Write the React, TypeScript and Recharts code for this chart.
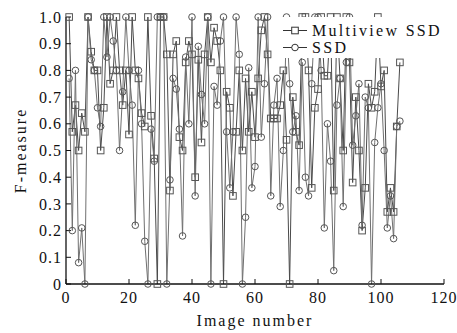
import React from 'react';
import { LineChart, Line, XAxis, YAxis, Legend } from 'recharts';

const multiviewSSD = [
  1.0, 0.57, 0.67, 0.5, 0.64, 0.57, 1.0, 0.87, 0.8, 0.8,
  0.5, 0.66, 1.0, 0.75, 0.8, 1.0, 0.8, 0.67, 0.8, 0.56,
  1.0, 0.8, 0.77, 0.64, 0.59, 1.0, 0.63, 0.47, 0.0, 1.0,
  1.0, 0.86, 0.35, 0.86, 0.91, 0.55, 0.5, 0.83, 0.91, 0.86,
  0.4, 0.84, 0.53, 0.86, 1.0, 0.83, 0.96, 0.91, 0.8, 0.0,
  0.72, 0.66, 0.33, 0.57, 0.8, 0.5, 0.77, 0.57, 0.72, 0.55,
  0.77, 0.95, 1.0, 0.86, 0.62, 0.62, 0.62, 0.67, 0.8, 0.54,
  0.0, 0.7, 0.57, 0.52, 1.0, 1.0, 0.8, 0.36, 0.66, 0.73,
  1.0, 0.78, 0.78, 1.0, 0.35, 1.0, 0.77, 0.5, 1.0, 0.83,
  0.38, 0.7, 0.5, 0.2, 0.36, 0.75, 0.66, 0.72, 1.0, 0.74,
  0.8, 0.27, 0.36, 0.27, 0.59, 0.83,
];

const plainSSD = [
  0.77, 0.2, 0.8, 0.08, 0.21, 0.0, 1.0, 0.84, 0.8, 0.66,
  0.59, 1.0, 0.85, 1.0, 0.91, 0.8, 0.5, 0.72, 1.0, 0.8,
  0.67, 0.22, 0.8, 0.6, 0.16, 0.0, 0.58, 0.46, 1.0, 1.0,
  1.0, 0.0, 0.39, 0.77, 0.73, 0.58, 0.18, 0.85, 0.6, 1.0,
  0.33, 0.89, 0.71, 0.6, 1.0, 0.0, 0.74, 0.67, 0.91, 1.0,
  0.57, 0.36, 0.57, 1.0, 0.86, 0.0, 0.25, 0.81, 0.36, 0.44,
  1.0, 0.55, 0.75, 1.0, 0.33, 0.67, 0.77, 0.29, 0.5, 1.0,
  0.75, 0.57, 0.63, 0.35, 0.83, 0.4, 0.33, 0.75, 1.0, 1.0,
  0.8, 0.21, 0.6, 0.46, 0.05, 0.67, 0.77, 0.29, 0.83, 1.0,
  0.52, 0.63, 0.75, 0.22, 0.7, 0.66, 0.0, 0.53, 0.66, 0.75,
  0.5, 0.21, 0.33, 0.17, 0.59, 0.61,
];

const xTicks = [0, 20, 40, 60, 80, 100, 120];
const yTicks = [0, 0.1, 0.2, 0.3, 0.4, 0.5, 0.6, 0.7, 0.8, 0.9, 1.0];
const seriesNames = ['Multiview SSD', 'SSD'];

const data = multiviewSSD.map((v, i) => ({ image: i + 1, mv: v, ssd: plainSSD[i] }));

const FONT = '"Liberation Serif", "Times New Roman", serif';
const MARK = '#555';

const SquareDot = (props: any) => {
  const { cx, cy, index } = props;
  if (cx == null || cy == null) return <g key={`s${index}`} />;
  return (
    <rect key={`s${index}`} x={cx - 3.3} y={cy - 3.3} width={6.6} height={6.6}
      fill="none" stroke={MARK} strokeWidth={1} />
  );
};

const CircleDot = (props: any) => {
  const { cx, cy, index } = props;
  if (cx == null || cy == null) return <g key={`c${index}`} />;
  return (
    <circle key={`c${index}`} cx={cx} cy={cy} r={3.3} fill="none" stroke={MARK} strokeWidth={1} />
  );
};

const LegendContent = () => (
  <div style={{ fontFamily: FONT, fontSize: 16, letterSpacing: 2.3, color: '#111', paddingTop: 5, paddingLeft: 4 }}>
    {seriesNames.map((name, i) => (
      <div key={name} style={{ display: 'flex', alignItems: 'center', height: 17, lineHeight: '17px', whiteSpace: 'nowrap' }}>
        <svg width={30} height={17} style={{ flex: 'none' }}>
          <line x1={1} y1={8.5} x2={25} y2={8.5} stroke="#333" strokeWidth={1} />
          {i === 0 ? (
            <rect x={9.7} y={5.2} width={6.6} height={6.6} fill="#fff" stroke="#333" />
          ) : (
            <circle cx={13} cy={8.5} r={3.3} fill="#fff" stroke="#333" />
          )}
        </svg>
        <span>{name}</span>
      </div>
    ))}
  </div>
);

const tickStyle = { fontFamily: FONT, fontSize: 16, fill: '#111', letterSpacing: 1 };
const axisLineStyle = { stroke: '#111', strokeWidth: 1.3 };

export default function App() {
  return (
    <div style={{ position: 'absolute', left: 0, top: 0, width: 457, height: 333, background: '#fff' }}>
      <LineChart width={457} height={333} data={data} margin={{ top: 17, right: 13, bottom: 0, left: 0 }}>
        <XAxis
          dataKey="image" type="number" domain={[0, 120]} ticks={xTicks} interval={0}
          height={49} tickSize={-5} tickMargin={13} tick={tickStyle}
          axisLine={axisLineStyle} tickLine={{ stroke: '#111' }}
          label={{
            content: (p: any) => {
              const vb = p.viewBox;
              return (
                <text x={vb.x + vb.width / 2} y={vb.y + 42} textAnchor="middle"
                  fontFamily={FONT} fontSize={16} fill="#111" style={{ letterSpacing: 2 }}>
                  Image number
                </text>
              );
            },
          }}
        />
        <XAxis
          xAxisId="top" orientation="top" dataKey="image" type="number" domain={[0, 120]} ticks={xTicks}
          height={0} tickSize={-5} tickFormatter={() => ''}
          axisLine={axisLineStyle} tickLine={{ stroke: '#111' }}
        />
        <YAxis
          type="number" domain={[0, 1]} ticks={yTicks} interval={0} width={66}
          tickSize={-5} tickMargin={9} tick={tickStyle}
          tickFormatter={(v: number) => (v === 0 ? '0' : v.toFixed(1))}
          axisLine={axisLineStyle} tickLine={{ stroke: '#111' }}
          label={{
            content: (p: any) => {
              const vb = p.viewBox;
              const cx = vb.x + 20;
              const cy = vb.y + vb.height / 2;
              return (
                <text x={cx} y={cy} transform={`rotate(-90, ${cx}, ${cy})`} textAnchor="middle"
                  dominantBaseline="central" fontFamily={FONT} fontSize={16} fill="#111"
                  style={{ letterSpacing: 2 }}>
                  F-measure
                </text>
              );
            },
          }}
        />
        <YAxis
          yAxisId="right" orientation="right" type="number" domain={[0, 1]} ticks={yTicks} width={0}
          tickSize={-5} tickFormatter={() => ''}
          axisLine={axisLineStyle} tickLine={{ stroke: '#111' }}
        />
        <Line dataKey="mv" name={seriesNames[0]} stroke="#4a4a4a" strokeWidth={1}
          dot={SquareDot} activeDot={false} isAnimationActive={false} />
        <Line dataKey="ssd" name={seriesNames[1]} stroke="#707070" strokeWidth={1}
          dot={CircleDot} activeDot={false} isAnimationActive={false} />
        <Legend
          layout="horizontal" verticalAlign="middle" align="center"
          content={<LegendContent />}
          wrapperStyle={{ left: 278, top: 17, width: 165, height: 41, background: '#fff' }}
        />
      </LineChart>
    </div>
  );
}
